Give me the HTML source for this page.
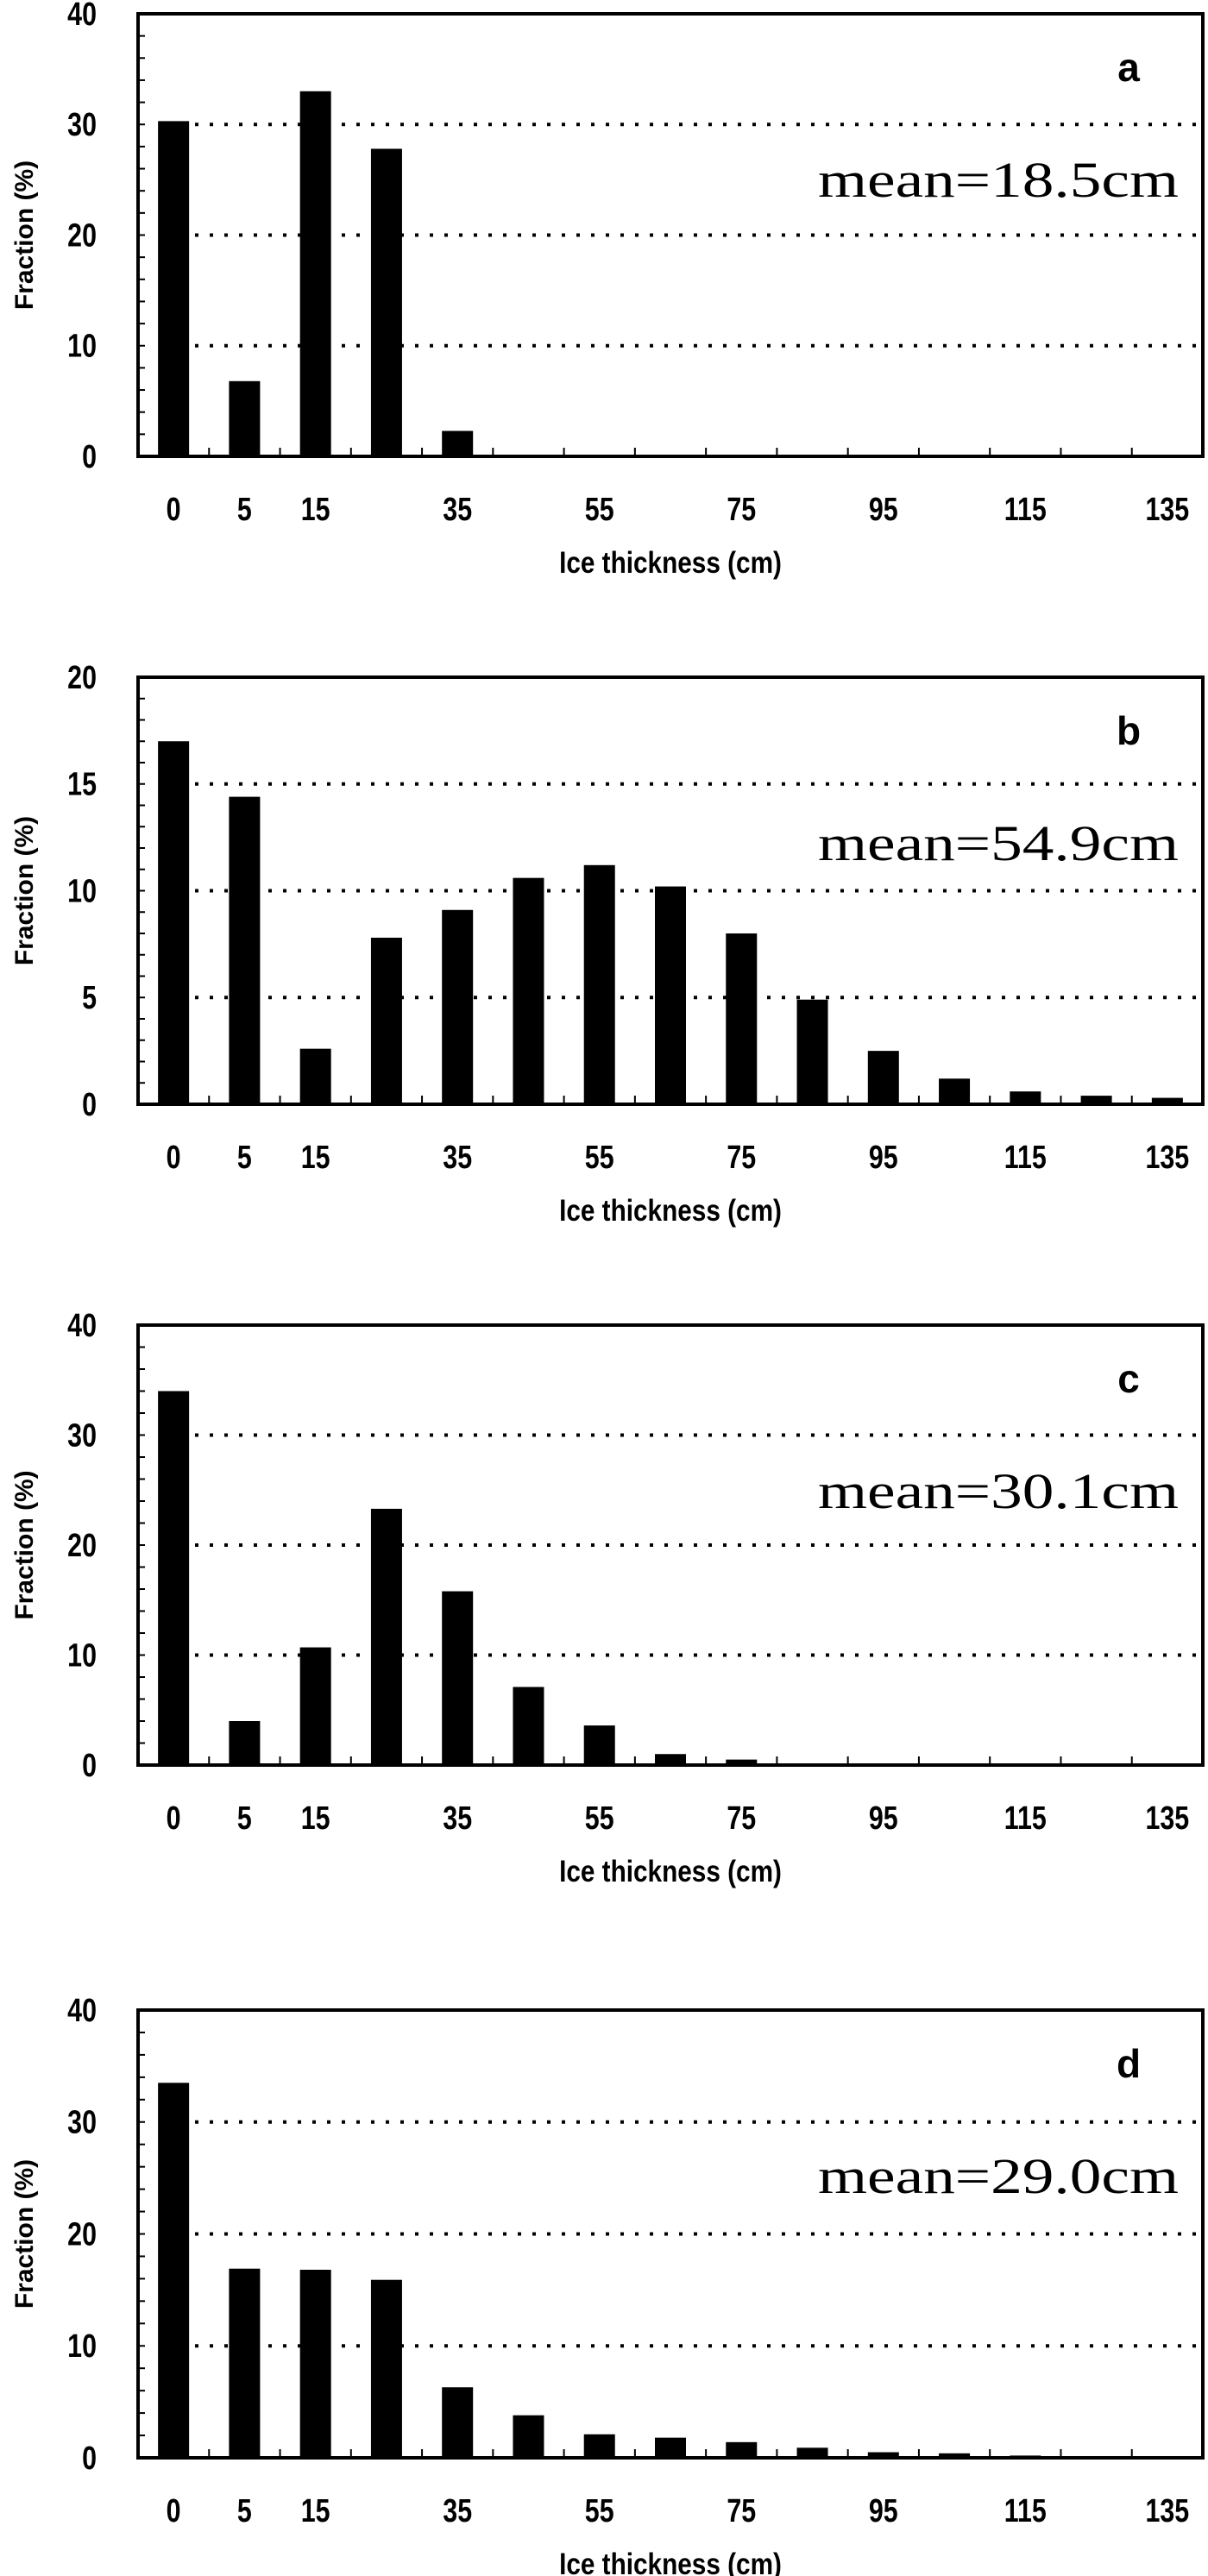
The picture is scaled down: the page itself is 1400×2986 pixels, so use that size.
<!DOCTYPE html>
<html><head><meta charset="utf-8"><style>
html,body{margin:0;padding:0;background:#fff;}
svg{display:block;}
</style></head><body>
<svg id="fig" width="1400" height="2986" viewBox="0 0 1400 2986" xmlns="http://www.w3.org/2000/svg"></svg>
<script>
const categories = ["0","5","15","25","35","45","55","65","75","85","95","105","115","125","135"];
const tickLabelIdx = [0,1,2,4,6,8,10,12,14];
const valuesA = [30.3,6.8,33.0,27.8,2.3,0.1,0.1,0.1,0.1,0.1,0.1,0.1,0.1,0.1,0.1];
const valuesB = [17.0,14.4,2.6,7.8,9.1,10.6,11.2,10.2,8.0,4.9,2.5,1.2,0.6,0.4,0.3];
const valuesC = [34.0,4.0,10.7,23.3,15.8,7.1,3.6,1.0,0.5,0.1,0.1,0.1,0.1,0.1,0.1];
const valuesD = [33.5,16.9,16.8,15.9,6.3,3.8,2.1,1.8,1.4,0.9,0.5,0.4,0.2,0.05,0.05];
const yTicksA = [0,10,20,30,40];
const yTicksB = [0,5,10,15,20];
const panelLetters = ["a","b","c","d"];
const meanLabels = ["mean=18.5cm","mean=54.9cm","mean=30.1cm","mean=29.0cm"];

const NS = "http://www.w3.org/2000/svg";
const svg = document.getElementById('fig');
function mk(tag, attrs, parent){
  const e = document.createElementNS(NS, tag);
  for (const k in attrs) e.setAttribute(k, attrs[k]);
  (parent||svg).appendChild(e);
  return e;
}
const panels = [
  {vals: valuesA, ticks: yTicksA, top: 16, zero: 529},
  {vals: valuesB, ticks: yTicksB, top: 785, zero: 1280},
  {vals: valuesC, ticks: yTicksA, top: 1536, zero: 2046},
  {vals: valuesD, ticks: yTicksA, top: 2330, zero: 2849}
];
const L = 160, R = 1394;
panels.forEach((p, pi) => {
  const g = mk('g', {});
  
  
  const ymax = p.ticks[p.ticks.length-1];
  const yS = v => p.zero - (v / ymax) * (p.zero - p.top);
  const bw = (R - L) / categories.length;
  const xS = i => L + bw * (i + 0.5);
  p.ticks.forEach((t, ti) => {
    if (ti === 0 || ti === p.ticks.length-1) return;
    const gl = mk('line', {x1: L+66, x2: R-8, y1: yS(t), y2: yS(t), stroke: '#000', 'stroke-width': 4, 'stroke-dasharray': '4 13'}, g);
    
    
  });
  const nMinor = 20;
  for (let k = 1; k < nMinor; k++) {
    const yy = p.zero - k * (p.zero - p.top) / nMinor;
    mk('line', {x1: L, x2: L+8, y1: yy, y2: yy, stroke: '#000', 'stroke-width': 2}, g);
  }
  for (let k = 1; k < categories.length; k++) {
    const xx = L + bw * k;
    mk('line', {x1: xx, x2: xx, y1: p.zero, y2: p.zero - 10, stroke: '#000', 'stroke-width': 2}, g);
  }
  p.vals.forEach((v, i) => {
    const b = mk('rect', {x: xS(i) - 18, y: yS(v), width: 36, height: p.zero - yS(v), fill: '#000'}, g);
    
    
  });
  const fr = mk('rect', {x: L, y: p.top, width: R - L, height: p.zero - p.top, fill: 'none', stroke: '#000', 'stroke-width': 4}, g);
  
  
  p.ticks.forEach(t => {
    const tx = mk('text', {x: 112, y: yS(t) + 13, 'text-anchor': 'end', 'font-family': 'Liberation Sans, sans-serif', 'font-weight': 'bold', 'font-size': 38, transform: 'translate(112 0) scale(0.8 1) translate(-112 0)'}, g);
    tx.textContent = t;
    
    
  });
  tickLabelIdx.forEach(i => {
    const cx = xS(i);
    const tx = mk('text', {x: cx, y: p.zero + 74, 'text-anchor': 'middle', 'font-family': 'Liberation Sans, sans-serif', 'font-weight': 'bold', 'font-size': 38, transform: `translate(${cx} 0) scale(0.8 1) translate(${-cx} 0)`}, g);
    tx.textContent = categories[i];
    
    
  });
  const xt = mk('text', {x: 777, y: p.zero + 135, 'text-anchor': 'middle', 'font-family': 'Liberation Sans, sans-serif', 'font-weight': 'bold', 'font-size': 35, transform: 'translate(777 0) scale(0.85 1) translate(-777 0)'}, g);
  xt.textContent = 'Ice thickness (cm)';
  
  
  const ym = (p.top + p.zero) / 2;
  const yt = mk('text', {x: 0, y: 0, 'text-anchor': 'middle', 'font-family': 'Liberation Sans, sans-serif', 'font-weight': 'bold', 'font-size': 30, transform: `translate(38 ${ym}) rotate(-90)`}, g);
  yt.textContent = 'Fraction (%)';
  
  
  const lt = mk('text', {x: 1308, y: p.top + 78, 'text-anchor': 'middle', 'font-family': 'Liberation Sans, sans-serif', 'font-weight': 'bold', 'font-size': 46}, g);
  lt.textContent = panelLetters[pi];
  
  
  const mt = mk('text', {x: 1366, y: p.top + 212, 'text-anchor': 'end', 'font-family': 'Liberation Serif, serif', 'font-size': 58, textLength: 418, lengthAdjust: 'spacingAndGlyphs'}, g);
  mt.textContent = meanLabels[pi];
  
  
});
</script>
</body></html>
